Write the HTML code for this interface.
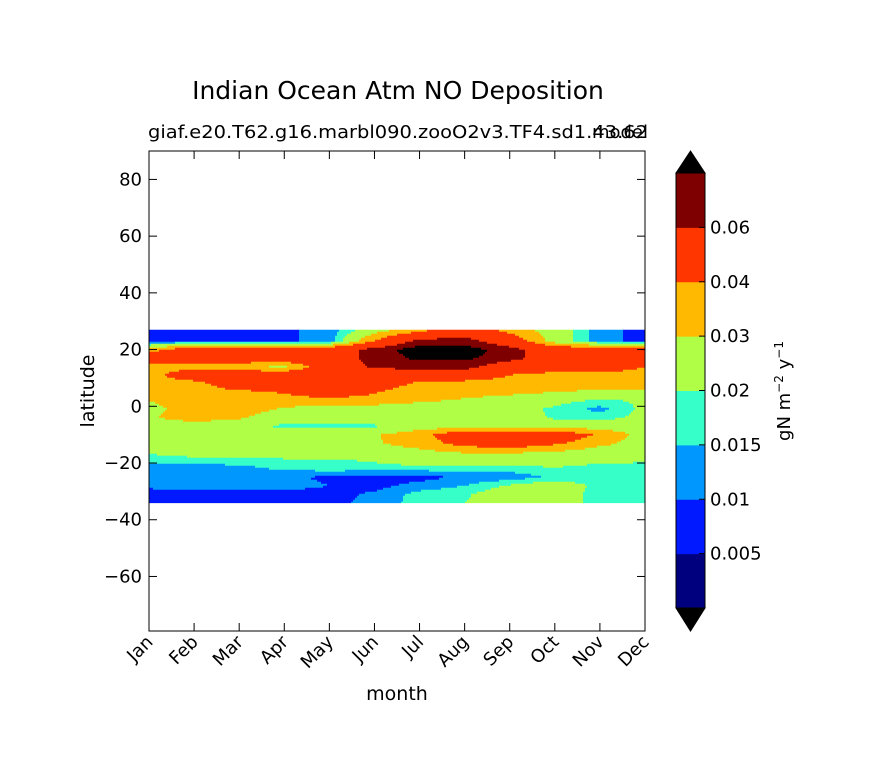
<!DOCTYPE html>
<html><head><meta charset="utf-8"><style>
html,body{margin:0;padding:0;background:#fff;}
svg{display:block;font-family:"DejaVu Sans","Liberation Sans",sans-serif;}
</style></head><body>
<svg id="chart" width="876" height="783" viewBox="0 0 876 783" xmlns="http://www.w3.org/2000/svg">
<rect x="0" y="0" width="876" height="783" fill="#fff"/>
<text x="398" y="99" font-size="25" text-anchor="middle">Indian Ocean Atm NO Deposition</text>
<text x="148" y="138" font-size="18" textLength="500" lengthAdjust="spacingAndGlyphs">giaf.e20.T62.g16.marbl090.zooO2v3.TF4.sd1.43.62</text>
<text x="648" y="138" font-size="18" text-anchor="end">model</text>
<g id="contours"></g>
<g id="axes"></g>
<g id="cbar"></g>
<text x="397" y="700" font-size="19" text-anchor="middle">month</text>
<text transform="translate(94,391) rotate(-90)" font-size="19" text-anchor="middle">latitude</text>
<text transform="translate(790,391) rotate(-90)" font-size="18" text-anchor="middle">gN m<tspan dy="-7" font-size="12">−2</tspan><tspan dy="7"> y</tspan><tspan dy="-7" font-size="12">−1</tspan></text>
</svg>
<script>
const months = ["Jan","Feb","Mar","Apr","May","Jun","Jul","Aug","Sep","Oct","Nov","Dec"];
const latitudes = [27,23,20,17,14,11,8,5,2,-1,-4,-7,-10,-13,-16,-19,-22,-25,-28,-31,-34];
const field = [
 [.008,.008,.008,.009,.012,.025,.035,.05,.035,.025,.012,.008],
 [.008,.008,.008,.009,.012,.04,.065,.065,.05,.025,.012,.008],
 [.035,.05,.05,.05,.05,.065,.075,.075,.065,.05,.05,.05],
 [.05,.05,.05,.05,.05,.065,.072,.072,.065,.05,.05,.045],
 [.035,.035,.033,.028,.05,.062,.065,.065,.05,.05,.05,.04],
 [.035,.05,.05,.05,.05,.05,.05,.05,.04,.035,.035,.035],
 [.035,.035,.05,.05,.05,.05,.037,.035,.035,.035,.035,.035],
 [.035,.035,.037,.041,.05,.041,.031,.033,.032,.03,.028,.027],
 [.03,.033,.035,.035,.035,.035,.031,.029,.026,.022,.019,.021],
 [.028,.033,.034,.029,.025,.025,.025,.025,.022,.019,.013,.022],
 [.029,.034,.031,.025,.025,.025,.025,.025,.025,.019,.018,.022],
 [.025,.025,.025,.018,.018,.019,.025,.025,.025,.025,.025,.025],
 [.025,.025,.025,.025,.025,.029,.036,.05,.05,.05,.038,.026],
 [.025,.025,.025,.025,.025,.029,.034,.045,.05,.042,.033,.025],
 [.021,.025,.025,.025,.025,.025,.028,.031,.031,.03,.025,.025],
 [.017,.017,.018,.019,.019,.021,.025,.025,.025,.025,.022,.021],
 [.012,.012,.013,.016,.017,.017,.017,.017,.017,.019,.017,.017],
 [.012,.012,.012,.011,.009,.008,.008,.011,.012,.016,.017,.017],
 [.011,.012,.012,.012,.01,.008,.012,.015,.021,.025,.018,.017],
 [.008,.008,.008,.008,.008,.011,.017,.019,.025,.025,.017,.017],
 [.008,.008,.008,.008,.008,.012,.017,.02,.025,.025,.017,.017]
];
const levels = [0.005,0.01,0.015,0.02,0.03,0.04,0.06,0.07];
const levelLabels = ["0.005","0.01","0.015","0.02","0.03","0.04","0.06"];
const yTicks = [-60,-40,-20,0,20,40,60,80];
const colors = ["#00007f","#0019ff","#0098ff","#36ffc9","#b0ff46","#ffb900","#ff3600","#7f0000","#000000"];

const NS = "http://www.w3.org/2000/svg";
const X0 = 149, X1 = 645, Y0 = 151, Y1 = 631;
function xScale(i){ return X0 + i*(X1-X0)/(months.length-1); }
function yScale(lat){ return 406.3 - lat*2.836; }
function mk(tag, attrs, parent){ const e=document.createElementNS(NS,tag); for(const k in attrs) e.setAttribute(k,attrs[k]); parent.appendChild(e); return e; }
function levelOf(v){ let k=0; while(k<levels.length && v>=levels[k]) k++; return k; }
function sample(x,y){
  const mi = (x-X0)/((X1-X0)/(months.length-1));
  const i0 = Math.max(0,Math.min(months.length-2,Math.floor(mi))); const fx = Math.max(0,Math.min(1,mi-i0));
  const lat = (406.3-y)/2.836;
  let j0=0; while(j0<latitudes.length-2 && latitudes[j0+1]>lat) j0++;
  let fy = (latitudes[j0]-lat)/(latitudes[j0]-latitudes[j0+1]); fy=Math.max(0,Math.min(1,fy));
  const a=field[j0][i0], b=field[j0][i0+1], c=field[j0+1][i0], d=field[j0+1][i0+1];
  return a*(1-fx)*(1-fy)+b*fx*(1-fy)+c*(1-fx)*fy+d*fx*fy;
}
const cg = document.getElementById('contours');
const yTop = yScale(latitudes[0]), yBot = yScale(latitudes[latitudes.length-1]);
const step = 2;
for(let y=yTop; y<yBot; y+=step){
  let runStart=X0, runLev=levelOf(sample(X0+0.5,y+1));
  for(let x=X0+step; x<=X1; x+=step){
    const lv = x<X1 ? levelOf(sample(x+1,y+1)) : -1;
    if(lv!==runLev){
      const r = mk('rect',{x:runStart,y:y,width:(Math.min(x,X1)-runStart)+0.4,height:Math.min(step,yBot-y)+0.4,fill:colors[runLev]},cg);
      
      
      runStart=x; runLev=lv;
    }
  }
}
const ax = document.getElementById('axes');
const frame = mk('rect',{x:X0,y:Y0,width:X1-X0,height:Y1-Y0,fill:'none',stroke:'#000','stroke-width':1},ax);


yTicks.forEach(t=>{
  const y=yScale(t);
  mk('line',{x1:X0,x2:X0+8,y1:y,y2:y,stroke:'#000'},ax);
  mk('line',{x1:X1,x2:X1-8,y1:y,y2:y,stroke:'#000'},ax);
  const tx = mk('text',{x:X0-7,y:y+6,'font-size':18,'text-anchor':'end'},ax);
  
  
  tx.textContent = t<0 ? '\u2212'+Math.abs(t) : String(t);
});
months.forEach((m,i)=>{
  const x=xScale(i);
  mk('line',{x1:x,x2:x,y1:Y1,y2:Y1-8,stroke:'#000'},ax);
  mk('line',{x1:x,x2:x,y1:Y0,y2:Y0+8,stroke:'#000'},ax);
  const tx = mk('text',{transform:`translate(${x+5},${Y1+12}) rotate(-45)`,'font-size':18,'text-anchor':'end'},ax);
  
  
  tx.textContent = m;
});
const cb = document.getElementById('cbar');
const CX=676, CW=29, CT=173, CB=608, n=levels.length;
const seg=(CB-CT)/n;
for(let k=0;k<n;k++){
  const r = mk('rect',{x:CX,y:CB-(k+1)*seg,width:CW,height:seg+0.5,fill:colors[k]},cb);
  
  
}
const up = mk('polygon',{points:`${CX},${CT} ${CX+CW/2},151 ${CX+CW},${CT}`,fill:colors[8],stroke:'#000'},cb);


const dn = mk('polygon',{points:`${CX},${CB} ${CX+CW/2},631 ${CX+CW},${CB}`,fill:'#000',stroke:'#000'},cb);


mk('rect',{x:CX,y:CT,width:CW,height:CB-CT,fill:'none',stroke:'#000'},cb);
levelLabels.forEach((l,k)=>{
  const y=CB-(k+1)*seg;
  mk('line',{x1:CX+CW-6,x2:CX+CW,y1:y,y2:y,stroke:'#000'},cb);
  const tx = mk('text',{x:CX+CW+5,y:y+6,'font-size':18},cb);
  
  
  tx.textContent = l;
});
</script>
</body></html>
